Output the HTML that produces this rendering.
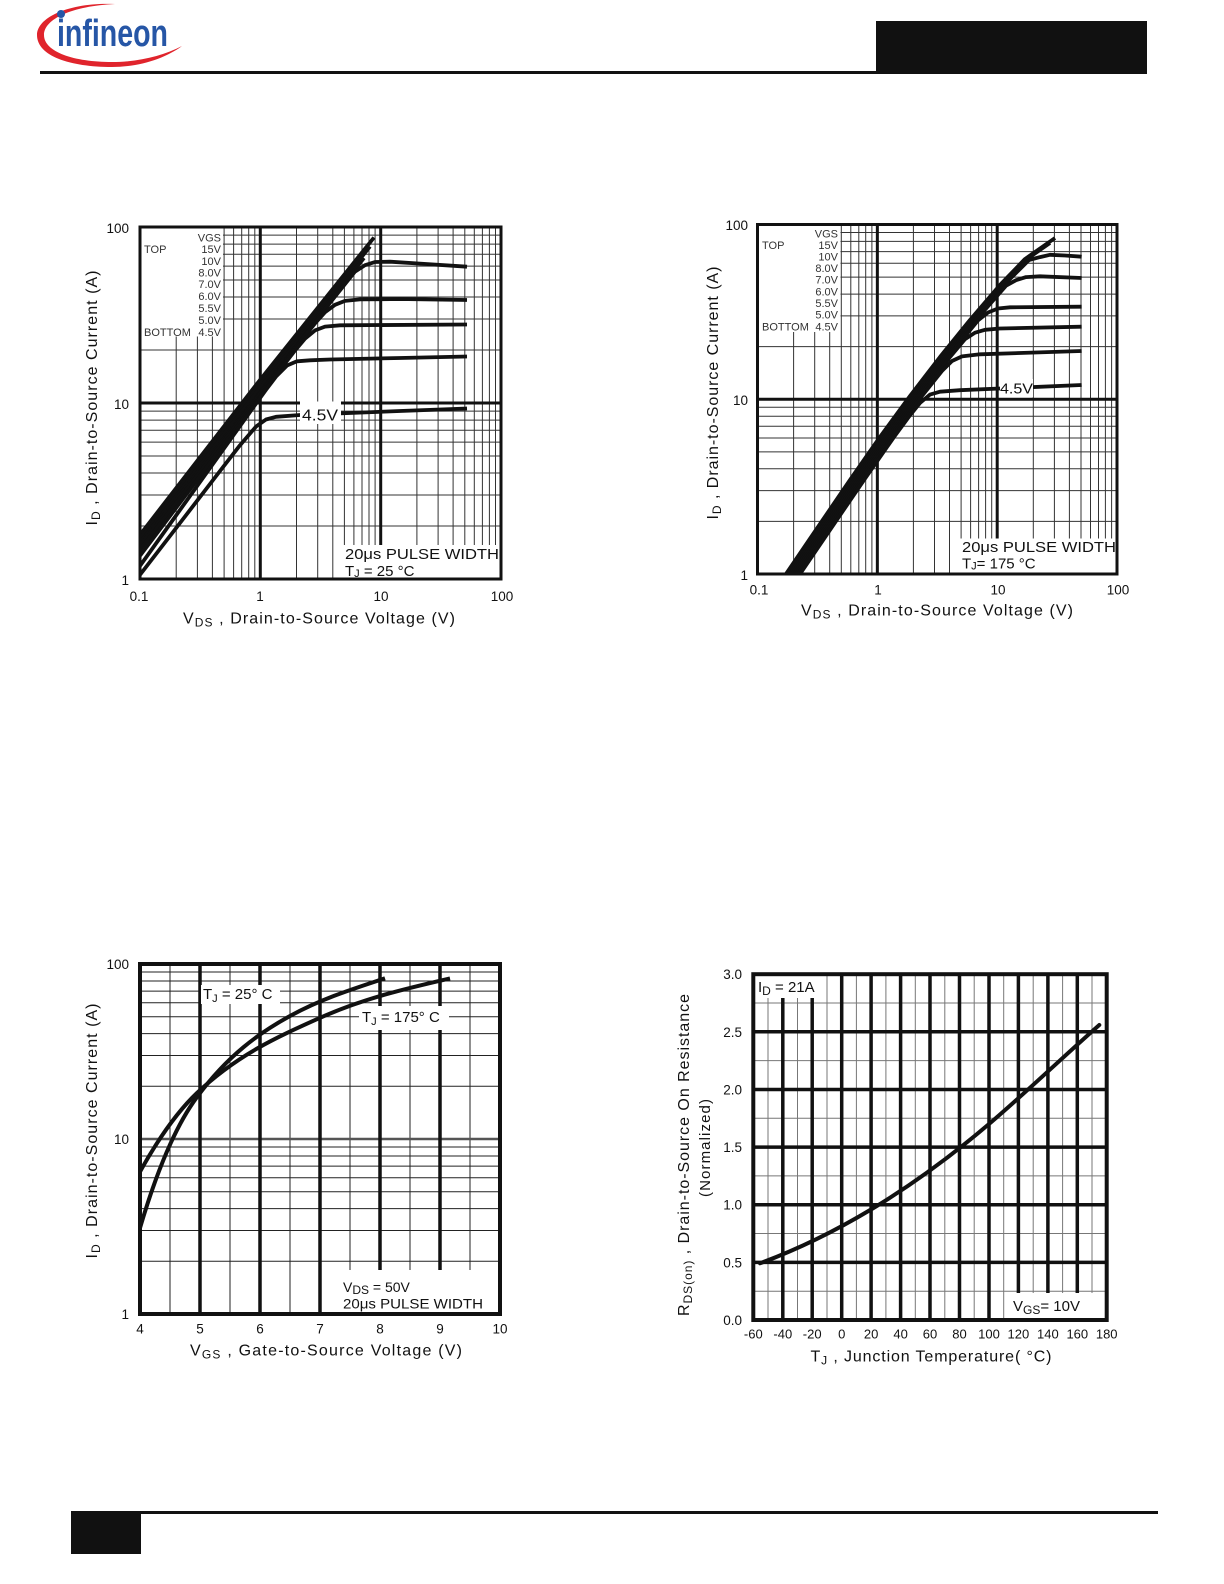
<!DOCTYPE html>
<html><head><meta charset="utf-8"><style>
html,body{margin:0;padding:0;background:#fff}
svg{display:block}
text{font-family:"Liberation Sans",Arial,sans-serif;fill:#111}
</style></head><body>
<svg width="1224" height="1584" viewBox="0 0 1224 1584" xmlns="http://www.w3.org/2000/svg">
<defs>
<clipPath id="c1"><rect x="140" y="227" width="361" height="352"/></clipPath>
<clipPath id="c2"><rect x="757.5" y="224.5" width="359.5" height="349.5"/></clipPath>
<clipPath id="c3"><rect x="140" y="964" width="360" height="350"/></clipPath>
<clipPath id="c4"><rect x="753.3" y="974.2" width="353.4" height="345.8"/></clipPath>
</defs>
<rect width="1224" height="1584" fill="#fff"/>

<!-- HEADER -->
<path d="M115,4 C70,2 37,17 37,35 C37,56 70,67 112,67 C140,67 166,58 182,46 C163,56 138,62 112,62 C74,62 44,52 44,35 C44,19 72,6 115,4 Z" fill="#e0242c"/>
<text x="57" y="46" font-size="38" font-weight="bold" textLength="111" lengthAdjust="spacingAndGlyphs" style="fill:#2656a6">infineon</text>
<circle cx="61" cy="14" r="4" fill="#2656a6"/>
<rect x="40" y="71" width="837" height="3" fill="#111"/>
<rect x="876" y="21" width="271" height="53" fill="#111"/>

<!-- FOOTER -->
<rect x="71" y="1511" width="1087" height="3" fill="#111"/>
<rect x="71" y="1511" width="70" height="43" fill="#111"/>

<!-- ================= CHART 1 ================= -->
<g fill="none">
<path stroke="#333" stroke-width="1" d="M176.2 227V579M197.4 227V579M212.4 227V579M224.1 227V579M233.6 227V579M241.7 227V579M248.7 227V579M254.8 227V579M296.5 227V579M317.7 227V579M332.8 227V579M344.4 227V579M353.9 227V579M362 227V579M369 227V579M375.1 227V579M416.9 227V579M438.1 227V579M453.1 227V579M464.8 227V579M474.3 227V579M482.4 227V579M489.4 227V579M495.5 227V579"/>
<path stroke="#333" stroke-width="1" d="M140 526H501M140 495H501M140 473H501M140 456H501M140 442.1H501M140 430.3H501M140 420.1H501M140 411.1H501M140 350H501M140 319H501M140 297H501M140 280H501M140 266.1H501M140 254.3H501M140 244.1H501M140 235.1H501"/>
<path stroke="#111" stroke-width="3" d="M260.3 227V579M380.7 227V579M140 403H501"/>
</g>
<g clip-path="url(#c1)" fill="none" stroke="#111" stroke-width="3.8" stroke-linejoin="round">
<path d="M136,540 L256,385 L374,237.5"/>
<path d="M136,544 L256,389 L370,246.5"/>
<path d="M136,548 L256,393 L364,258"/>
<path d="M136,551 L200,469.2 L256,397.5 L300,341.2 L330,302.8 L345,284.1 L355,271.6 L365,265.2 L375,262 L390,261.7 L420,263.6 L467,266.7"/>
<path d="M136,555 L200,472 L256,399.2 L290,355 L305,335.8 L315,323.4 L325,312.2 L335,304.8 L345,300.9 L360,299.4 L400,299 L467,300"/>
<path d="M136,561 L200,476.2 L256,401.7 L280,369.9 L295,350.5 L305,338.7 L315,330.4 L325,326.6 L340,325.3 L467,324.5"/>
<path d="M136,571.5 L200,482 L240,426 L256,403.6 L266,389.8 L276,376.6 L287,365.5 L297,361.3 L310,360.3 L330,359.5 L400,358 L467,356.5"/>
<path d="M136,580 L180,523 L220,471 L240,445.2 L256,426.6 L266,419.5 L276,416.8 L300,415 L340,413.4 L400,411 L467,408.5"/>
</g>
<rect x="141.5" y="228.5" width="81.5" height="108" fill="#fff"/>
<rect x="341" y="545" width="158.5" height="32.5" fill="#fff"/>
<rect x="300" y="401.5" width="41" height="22.5" fill="#fff"/>
<g font-size="11">
<text x="221" y="241.5" text-anchor="end" style="fill:#333">VGS</text>
<text x="144" y="253" style="fill:#333">TOP</text>
<text x="221" y="253" text-anchor="end" style="fill:#333">15V</text>
<text x="221" y="265" text-anchor="end" style="fill:#333">10V</text>
<text x="221" y="276.5" text-anchor="end" style="fill:#333">8.0V</text>
<text x="221" y="288" text-anchor="end" style="fill:#333">7.0V</text>
<text x="221" y="300" text-anchor="end" style="fill:#333">6.0V</text>
<text x="221" y="312" text-anchor="end" style="fill:#333">5.5V</text>
<text x="221" y="324" text-anchor="end" style="fill:#333">5.0V</text>
<text x="144" y="336" style="fill:#333">BOTTOM</text>
<text x="221" y="336" text-anchor="end" style="fill:#333">4.5V</text>
</g>
<text x="302" y="420.5" font-size="16" textLength="36" lengthAdjust="spacingAndGlyphs">4.5V</text>
<text x="345" y="559" font-size="15" textLength="154" lengthAdjust="spacingAndGlyphs">20μs PULSE WIDTH</text>
<text x="345" y="576" font-size="15">T<tspan font-size="11" dy="1">J</tspan><tspan dy="-1"> = 25 °C</tspan></text>
<rect x="140" y="227" width="361" height="352" fill="none" stroke="#111" stroke-width="3"/>
<g font-size="13.5">
<text x="129" y="233" text-anchor="end">100</text>
<text x="129" y="409" text-anchor="end">10</text>
<text x="129" y="585" text-anchor="end">1</text>
<text x="139" y="601" text-anchor="middle">0.1</text>
<text x="260" y="601" text-anchor="middle">1</text>
<text x="381" y="601" text-anchor="middle">10</text>
<text x="502" y="601" text-anchor="middle">100</text>
</g>
<text x="319" y="623.5" font-size="16" text-anchor="middle" textLength="272">V<tspan font-size="12" dy="3">DS</tspan><tspan dy="-3"> , Drain-to-Source Voltage (V)</tspan></text>
<text transform="translate(97,398) rotate(-90)" font-size="16" text-anchor="middle" textLength="255">I<tspan font-size="12" dy="3">D</tspan><tspan dy="-3"> ,  Drain-to-Source Current (A)</tspan></text>

<!-- ================= CHART 2 ================= -->
<g fill="none">
<path stroke="#333" stroke-width="1" d="M793.6 224.5V574M814.7 224.5V574M829.7 224.5V574M841.3 224.5V574M850.8 224.5V574M858.8 224.5V574M865.7 224.5V574M871.9 224.5V574M913.4 224.5V574M934.5 224.5V574M949.5 224.5V574M961.1 224.5V574M970.6 224.5V574M978.6 224.5V574M985.6 224.5V574M991.7 224.5V574M1033.3 224.5V574M1054.4 224.5V574M1069.4 224.5V574M1081 224.5V574M1090.5 224.5V574M1098.5 224.5V574M1105.4 224.5V574M1111.6 224.5V574"/>
<path stroke="#333" stroke-width="1" d="M757.5 521.4H1117M757.5 490.6H1117M757.5 468.8H1117M757.5 451.9H1117M757.5 438H1117M757.5 426.3H1117M757.5 416.2H1117M757.5 407.3H1117M757.5 346.65H1117M757.5 315.9H1117M757.5 294.1H1117M757.5 277.1H1117M757.5 263.3H1117M757.5 251.6H1117M757.5 241.4H1117M757.5 232.5H1117"/>
<path stroke="#111" stroke-width="3" d="M877.35 224.5V574M997.2 224.5V574M757.5 399.25H1117"/>
</g>
<g clip-path="url(#c2)" fill="none" stroke="#111" stroke-width="3.8" stroke-linejoin="round">
<path d="M779,584 L786,574 L820,524 L850,480 L880,437 L910,396 L940,357 L970,320 L1000,285 L1025,259 L1055,238"/>
<path d="M781,584 L788,574 L822,524 L852,480 L882,437 L912,396 L942,357 L972,320 L1002,285 L1027,259 L1050,243"/>
<path d="M783,584 L790,574 L824,524 L854,480 L884,437 L914,396 L944,357 L974,320 L1004,285 L1029,260 L1040,257.1 L1050,254.8 L1065,255.5 L1081.7,256.7"/>
<path d="M785,584 L792,574 L826,524 L856,480 L886,437 L916,396 L946,357 L976,320 L1006,285.7 L1016,280.2 L1026,277.1 L1040,276.3 L1081.7,278"/>
<path d="M787,584 L794,574 L828,524 L858,480 L888,437 L918,396 L948,357 L978,320.4 L988,312.5 L998,308.5 L1010,307.3 L1081.7,306.7"/>
<path d="M789,584 L796,574 L830,524 L860,480 L890,437 L920,396 L950,357 L965,339.2 L975,332.7 L985,329.8 L1000,328.5 L1081.7,326.7"/>
<path d="M791,584 L798,574 L832,524 L862,480 L892,437 L922,396 L942,370.9 L952,361 L962,356.4 L980,354.3 L1081.7,351"/>
<path d="M793,584 L800,574 L834,524 L864,480 L894,437 L910,415.3 L920,402.9 L930,394.6 L940,391.7 L960,390.2 L1000,388.5 L1081.7,385"/>
</g>
<rect x="759" y="226" width="81.5" height="106" fill="#fff"/>
<rect x="958" y="538.5" width="157.5" height="34" fill="#fff"/>
<rect x="1000" y="379" width="33" height="18" fill="#fff"/>
<g font-size="11">
<text x="838" y="237.5" text-anchor="end" style="fill:#333">VGS</text>
<text x="762" y="249" style="fill:#333">TOP</text>
<text x="838" y="249" text-anchor="end" style="fill:#333">15V</text>
<text x="838" y="260.5" text-anchor="end" style="fill:#333">10V</text>
<text x="838" y="272" text-anchor="end" style="fill:#333">8.0V</text>
<text x="838" y="283.5" text-anchor="end" style="fill:#333">7.0V</text>
<text x="838" y="295.5" text-anchor="end" style="fill:#333">6.0V</text>
<text x="838" y="307" text-anchor="end" style="fill:#333">5.5V</text>
<text x="838" y="318.5" text-anchor="end" style="fill:#333">5.0V</text>
<text x="762" y="330.5" style="fill:#333">BOTTOM</text>
<text x="838" y="330.5" text-anchor="end" style="fill:#333">4.5V</text>
</g>
<text x="1000" y="393.5" font-size="15" textLength="33" lengthAdjust="spacingAndGlyphs">4.5V</text>
<text x="962" y="552" font-size="15" textLength="154" lengthAdjust="spacingAndGlyphs">20μs PULSE WIDTH</text>
<text x="962" y="568.5" font-size="15">T<tspan font-size="11" dy="1">J</tspan><tspan dy="-1">= 175 °C</tspan></text>
<rect x="757.5" y="224.5" width="359.5" height="349.5" fill="none" stroke="#111" stroke-width="3"/>
<g font-size="13.5">
<text x="748" y="230" text-anchor="end">100</text>
<text x="748" y="405" text-anchor="end">10</text>
<text x="748" y="580" text-anchor="end">1</text>
<text x="759" y="594.5" text-anchor="middle">0.1</text>
<text x="878" y="594.5" text-anchor="middle">1</text>
<text x="998" y="594.5" text-anchor="middle">10</text>
<text x="1118" y="594.5" text-anchor="middle">100</text>
</g>
<text x="937" y="615.5" font-size="16" text-anchor="middle" textLength="272">V<tspan font-size="12" dy="3">DS</tspan><tspan dy="-3"> , Drain-to-Source Voltage (V)</tspan></text>
<text transform="translate(718,393) rotate(-90)" font-size="16" text-anchor="middle" textLength="253">I<tspan font-size="12" dy="3">D</tspan><tspan dy="-3"> ,  Drain-to-Source Current (A)</tspan></text>

<!-- ================= CHART 3 ================= -->
<g fill="none">
<path stroke="#222" stroke-width="1" d="M170 964V1314M230 964V1314M290 964V1314M350 964V1314M410 964V1314M470 964V1314"/>
<path stroke="#222" stroke-width="1" d="M140 1261.3H500M140 1230.5H500M140 1208.6H500M140 1191.7H500M140 1177.8H500M140 1166.1H500M140 1156H500M140 1147H500M140 1086.3H500M140 1055.5H500M140 1033.6H500M140 1016.7H500M140 1002.8H500M140 991.1H500M140 981H500M140 972H500"/>
<path stroke="#555" stroke-width="2.5" d="M140 1139H500"/>
<path stroke="#111" stroke-width="3.5" d="M200 964V1314M260 964V1314M320 964V1314M380 964V1314M440 964V1314"/>
</g>
<g clip-path="url(#c3)" fill="none" stroke="#111" stroke-width="4" stroke-linejoin="round">
<path d="M134,1182 L140,1171.7 C159,1137.5 178,1111 197,1093 C237.7,1054.4 278.3,1036.6 319,1018.3 C362.7,998.6 406.3,988.4 450,978.4"/>
<path d="M137,1239 L140,1228 C159,1163.4 178,1122.6 197,1097 C228,1055.1 259,1033 290,1016 C321.7,998.6 353.3,988.8 385,978.3"/>
</g>
<rect x="201" y="985" width="79" height="19" fill="#fff"/>
<rect x="359" y="1006" width="90" height="24" fill="#fff"/>
<rect x="338" y="1270" width="160" height="42" fill="#fff"/>
<text x="203" y="999" font-size="15">T<tspan font-size="11" dy="3">J</tspan><tspan dy="-3"> = 25° C</tspan></text>
<text x="362" y="1022" font-size="15">T<tspan font-size="11" dy="3">J</tspan><tspan dy="-3"> = 175° C</tspan></text>
<text x="343" y="1292" font-size="14">V<tspan font-size="12" dy="2">DS</tspan><tspan dy="-2"> = 50V</tspan></text>
<text x="343" y="1308.5" font-size="14" textLength="140" lengthAdjust="spacingAndGlyphs">20μs PULSE WIDTH</text>
<rect x="140" y="964" width="360" height="350" fill="none" stroke="#111" stroke-width="4"/>
<g font-size="13.5">
<text x="129" y="969" text-anchor="end">100</text>
<text x="129" y="1144" text-anchor="end">10</text>
<text x="129" y="1319" text-anchor="end">1</text>
<text x="140" y="1333.5" text-anchor="middle">4</text>
<text x="200" y="1333.5" text-anchor="middle">5</text>
<text x="260" y="1333.5" text-anchor="middle">6</text>
<text x="320" y="1333.5" text-anchor="middle">7</text>
<text x="380" y="1333.5" text-anchor="middle">8</text>
<text x="440" y="1333.5" text-anchor="middle">9</text>
<text x="500" y="1333.5" text-anchor="middle">10</text>
</g>
<text x="326" y="1355.5" font-size="16" text-anchor="middle" textLength="272">V<tspan font-size="12" dy="3">GS</tspan><tspan dy="-3"> , Gate-to-Source Voltage (V)</tspan></text>
<text transform="translate(97,1131) rotate(-90)" font-size="16" text-anchor="middle" textLength="255">I<tspan font-size="12" dy="3">D</tspan><tspan dy="-3"> ,  Drain-to-Source Current (A)</tspan></text>

<!-- ================= CHART 4 ================= -->
<g fill="none">
<path stroke="#777" stroke-width="1" d="M768 974.2V1320M797.5 974.2V1320M827 974.2V1320M856.4 974.2V1320M885.9 974.2V1320M915.3 974.2V1320M944.8 974.2V1320M974.2 974.2V1320M1003.7 974.2V1320M1033.2 974.2V1320M1062.6 974.2V1320M1092 974.2V1320"/>
<path stroke="#777" stroke-width="1" d="M753.3 1291.2H1106.7M753.3 1233.5H1106.7M753.3 1175.9H1106.7M753.3 1118.3H1106.7M753.3 1060.6H1106.7M753.3 1003H1106.7"/>
<path stroke="#111" stroke-width="3.5" d="M782.8 974.2V1320M812.2 974.2V1320M841.7 974.2V1320M871.1 974.2V1320M900.6 974.2V1320M930 974.2V1320M959.5 974.2V1320M989 974.2V1320M1018.4 974.2V1320M1047.9 974.2V1320M1077.3 974.2V1320"/>
<path stroke="#111" stroke-width="3.5" d="M753.3 1262.4H1106.7M753.3 1204.7H1106.7M753.3 1147.1H1106.7M753.3 1089.5H1106.7M753.3 1031.8H1106.7"/>
</g>
<g clip-path="url(#c4)" fill="none" stroke="#111" stroke-width="4" stroke-linejoin="round" stroke-linecap="round">
<path d="M760,1263.3 C797,1249.6 834,1231.7 871,1209.5 C910.3,1185.9 949.7,1157.4 989,1124 C1025.8,1092.7 1062.5,1057.4 1099.3,1025"/>
</g>
<rect x="755" y="976" width="71" height="22" fill="#fff"/>
<rect x="1010" y="1293" width="95" height="25" fill="#fff"/>
<text x="758" y="992" font-size="15">I<tspan font-size="12" dy="3">D</tspan><tspan dy="-3"> = 21A</tspan></text>
<text x="1013" y="1311" font-size="15">V<tspan font-size="12" dy="3">GS</tspan><tspan dy="-3">= 10V</tspan></text>
<rect x="753.3" y="974.2" width="353.4" height="345.8" fill="none" stroke="#111" stroke-width="4"/>
<g font-size="13.5">
<text x="742" y="979" text-anchor="end">3.0</text>
<text x="742" y="1036.8" text-anchor="end">2.5</text>
<text x="742" y="1094.5" text-anchor="end">2.0</text>
<text x="742" y="1152" text-anchor="end">1.5</text>
<text x="742" y="1209.7" text-anchor="end">1.0</text>
<text x="742" y="1267.4" text-anchor="end">0.5</text>
<text x="742" y="1325" text-anchor="end">0.0</text>
</g>
<g font-size="13" text-anchor="middle">
<text x="753.3" y="1338.5">-60</text>
<text x="782.8" y="1338.5">-40</text>
<text x="812.2" y="1338.5">-20</text>
<text x="841.7" y="1338.5">0</text>
<text x="871.1" y="1338.5">20</text>
<text x="900.6" y="1338.5">40</text>
<text x="930" y="1338.5">60</text>
<text x="959.5" y="1338.5">80</text>
<text x="989" y="1338.5">100</text>
<text x="1018.4" y="1338.5">120</text>
<text x="1047.9" y="1338.5">140</text>
<text x="1077.3" y="1338.5">160</text>
<text x="1106.7" y="1338.5">180</text>
</g>
<text x="931" y="1361.5" font-size="16" text-anchor="middle" textLength="241">T<tspan font-size="12" dy="3">J</tspan><tspan dy="-3"> , Junction Temperature( °C)</tspan></text>
<text transform="translate(689,1155) rotate(-90)" font-size="16" text-anchor="middle" textLength="322">R<tspan font-size="12" dy="3">DS(on)</tspan><tspan dy="-3">  ,   Drain-to-Source On Resistance</tspan></text>
<text transform="translate(710,1148) rotate(-90)" font-size="15" text-anchor="middle" textLength="98">(Normalized)</text>
</svg>
</body></html>
